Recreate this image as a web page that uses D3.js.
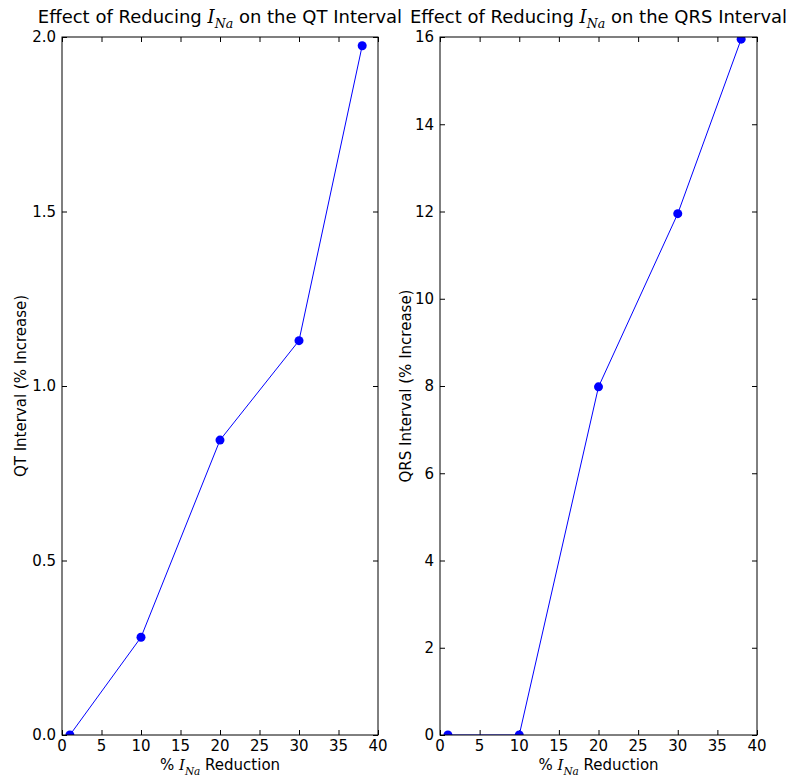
<!DOCTYPE html>
<html>
<head>
<meta charset="utf-8">
<script src="https://cdn.jsdelivr.net/npm/d3@7"></script>
<style>
  body { margin: 0; background: #fff; }
  text { font-family: "DejaVu Sans", sans-serif; fill: #000; }
  .math { font-family: "DejaVu Serif", serif; font-style: italic; }
</style>
</head>
<body>
<script>
// data
var reduction = [1, 10, 20, 30, 38];
var qtIncrease = [0, 0.28, 0.845, 1.13, 1.975];
var qrsIncrease = [0, 0, 7.98, 11.95, 15.95];
var xTicks = [0, 5, 10, 15, 20, 25, 30, 35, 40];
var qtTicks = [0, 0.5, 1.0, 1.5, 2.0];
var qrsTicks = [0, 2, 4, 6, 8, 10, 12, 14, 16];

var W = 793, H = 777;
var top_ = 37, bottom = 735;
var fs = 15, titleFs = 18;

var svg = d3.select("body").append("svg")
    .attr("width", W)
    .attr("height", H);

var panels = [
  {left: 62, right: 378, ys: qtIncrease, yMax: 2, yTicks: qtTicks, fmt: d3.format(".1f"),
   title: ["Effect of Reducing ", " on the QT Interval"], ylabel: "QT Interval (% Increase)", ylx: 26, id: "qt"},
  {left: 440, right: 757, ys: qrsIncrease, yMax: 16, yTicks: qrsTicks, fmt: d3.format("d"),
   title: ["Effect of Reducing ", " on the QRS Interval"], ylabel: "QRS Interval (% Increase)", ylx: 411, id: "qrs"}
];

// helper: "I" italic with subscript "Na"
function addINa(t, size) {
  t.append("tspan").attr("class", "math").text("I");
  t.append("tspan").attr("class", "math")
      .attr("font-size", size * 0.7)
      .attr("dy", size * 0.3)
      .text("Na");
  return t;
}

panels.forEach(function(p) {
  var x = d3.scaleLinear().domain([0, 40]).range([p.left, p.right]);
  var y = d3.scaleLinear().domain([0, p.yMax]).range([bottom, top_]);
  var pts = reduction.map(function(r, i) { return [r, p.ys[i]]; });

  svg.append("clipPath").attr("id", "clip-" + p.id)
    .append("rect")
      .attr("x", p.left).attr("y", top_)
      .attr("width", p.right - p.left).attr("height", bottom - top_);

  // ticks inward on all four sides
  svg.append("g")
      .attr("transform", "translate(0," + bottom + ")")
      .call(d3.axisTop(x).tickValues(xTicks).tickSize(5).tickFormat(""));
  svg.append("g")
      .attr("transform", "translate(0," + top_ + ")")
      .call(d3.axisBottom(x).tickValues(xTicks).tickSize(5).tickFormat(""));
  svg.append("g")
      .attr("transform", "translate(" + p.left + ",0)")
      .call(d3.axisRight(y).tickValues(p.yTicks).tickSize(5).tickFormat(""));
  svg.append("g")
      .attr("transform", "translate(" + p.right + ",0)")
      .call(d3.axisLeft(y).tickValues(p.yTicks).tickSize(5).tickFormat(""));
  svg.selectAll(".domain").remove();
  svg.selectAll(".tick line").attr("stroke", "#000");

  // tick labels
  svg.append("g").selectAll("text")
    .data(xTicks).enter().append("text")
      .attr("x", function(d) { return x(d); })
      .attr("y", bottom + 16)
      .attr("text-anchor", "middle")
      .attr("font-size", fs)
      .text(function(d) { return d; });
  svg.append("g").selectAll("text")
    .data(p.yTicks).enter().append("text")
      .attr("x", p.left - 6)
      .attr("y", function(d) { return y(d); })
      .attr("dy", "0.36em")
      .attr("text-anchor", "end")
      .attr("font-size", fs)
      .text(function(d) { return p.fmt(d); });

  var line = d3.line()
      .x(function(d) { return x(d[0]); })
      .y(function(d) { return y(d[1]); });

  var plot = svg.append("g").attr("clip-path", "url(#clip-" + p.id + ")");
  plot.append("path")
      .datum(pts)
      .attr("d", line)
      .attr("fill", "none")
      .attr("stroke", "#0000ff")
      .attr("stroke-width", 1);
  plot.selectAll("circle")
    .data(pts).enter().append("circle")
      .attr("cx", function(d) { return x(d[0]); })
      .attr("cy", function(d) { return y(d[1]); })
      .attr("r", 4.5)
      .attr("fill", "#0000ff");

  // frame
  svg.append("rect")
      .attr("x", p.left).attr("y", top_)
      .attr("width", p.right - p.left).attr("height", bottom - top_)
      .attr("fill", "none").attr("stroke", "#000").attr("stroke-width", 1);

  // title
  var t = svg.append("text")
      .attr("x", (p.left + p.right) / 2)
      .attr("y", 23)
      .attr("text-anchor", "middle")
      .attr("font-size", titleFs);
  t.append("tspan").text(p.title[0]);
  addINa(t, titleFs);
  t.append("tspan").attr("dy", -titleFs * 0.3).text(p.title[1]);

  // x label
  var xl = svg.append("text")
      .attr("x", (p.left + p.right) / 2)
      .attr("y", 770)
      .attr("text-anchor", "middle")
      .attr("font-size", fs);
  xl.append("tspan").text("% ");
  addINa(xl, fs);
  xl.append("tspan").attr("dy", -fs * 0.3).text(" Reduction");

  // y label
  svg.append("text")
      .attr("transform", "translate(" + p.ylx + "," + ((top_ + bottom) / 2) + ") rotate(-90)")
      .attr("text-anchor", "middle")
      .attr("font-size", fs)
      .text(p.ylabel);
});
</script>
</body>
</html>
